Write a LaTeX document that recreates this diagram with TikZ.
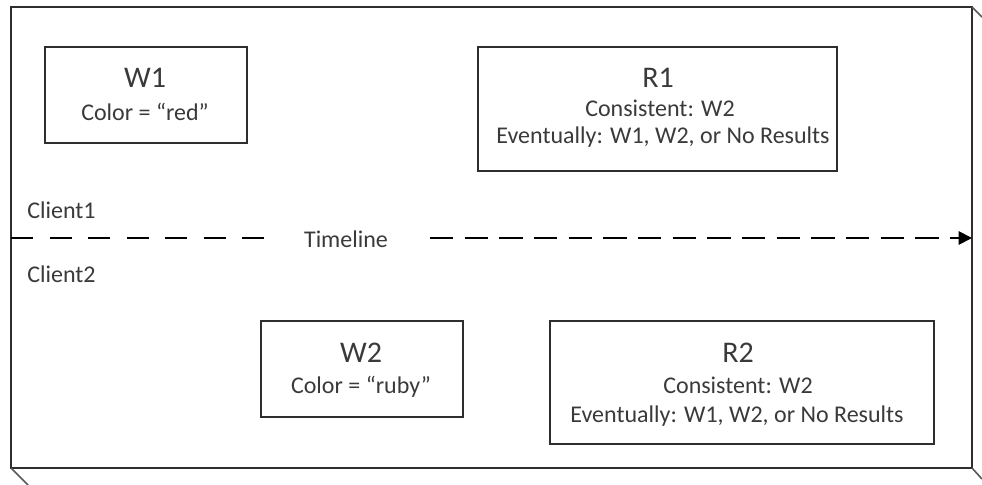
\documentclass[tikz,border=0pt]{standalone}
\usepackage{fontspec}
\setmainfont{Carlito}
\usetikzlibrary{arrows.meta}
\definecolor{txt}{HTML}{3A3A3A}
\definecolor{ln}{HTML}{2E2E2E}
\begin{document}
\begin{tikzpicture}[x=0.75pt,y=-0.75pt,
  box/.style={draw=ln,line width=1.5pt,inner sep=0pt,anchor=north west},
  ttl/.style={anchor=base,inner sep=0pt,text=txt,font=\fontsize{22.5}{26}\selectfont},
  sub/.style={anchor=base,inner sep=0pt,text=txt,font=\fontsize{18}{20}\selectfont},
  lbl/.style={anchor=base west,inner sep=0pt,text=txt,font=\fontsize{18}{20}\selectfont},
  frame/.style={draw=ln,line width=1.5pt},
  diag/.style={draw=ln!80,line width=1.2pt},
  dashL/.style={draw=black,line width=1.4pt,dash pattern=on 16.5pt off 12.4pt},
  dashR/.style={draw=black,line width=1.4pt,dash pattern=on 17.6pt off 8.4pt}]
\useasboundingbox (0,0) rectangle (982,485);
% outer frame
\draw[frame] (11,7) rectangle (972,468);
\draw[diag] (972,7) -- (982,17);
\draw[diag] (11,468) -- (28,485);
\draw[diag] (972,468) -- (982,479);
% boxes
\node[box,minimum width=151.5pt,minimum height=72pt] (w1) at (44,46) {};
\node[box,minimum width=269.25pt,minimum height=93pt] (r1) at (477,46) {};
\node[box,minimum width=151.5pt,minimum height=72pt] (w2) at (260,320) {};
\node[box,minimum width=288pt,minimum height=92.25pt] (r2) at (549,320) {};
% box texts
\node[ttl] (w1t) at (145,88) {W1};
\node[sub] (w1s) at (145,120) {Color = “red”};
\node[ttl] (r1t) at (658,88) {R1};
\node[sub] (r1a) at (660,117) {Consistent: W2};
\node[sub] (r1b) at (663,143) {Eventually: W1, W2, or No Results};
\node[ttl] (w2t) at (361,362) {W2};
\node[sub] (w2s) at (361,393) {Color = “ruby”};
\node[ttl] (r2t) at (738,362) {R2};
\node[sub] (r2a) at (738,393) {Consistent: W2};
\node[sub] (r2b) at (737,422) {Eventually: W1, W2, or No Results};
% labels
\node[lbl] (c1) at (27,218) {Client1};
\node[lbl] (c2) at (27,282) {Client2};
\node[sub] (tl) at (346,247) {Timeline};
% timeline
\coordinate (l0) at (11,238);
\coordinate (l1) at (267,238);
\coordinate (r0) at (430,238);
\coordinate (r1e) at (972,238);
\draw[dashL] (l0) -- (l1);
\draw[dashR,-{Triangle[length=10pt,width=10pt]}] (r0) -- (r1e);
\end{tikzpicture}
\end{document}
